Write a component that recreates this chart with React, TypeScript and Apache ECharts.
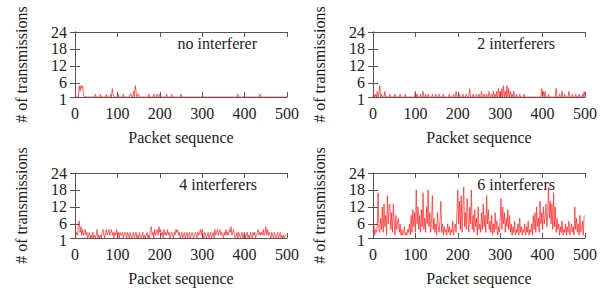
import React, { useEffect, useRef } from 'react';
import * as echarts from 'echarts';

const xTicks = [0, 100, 200, 300, 400, 500];
const yTicks = [1, 6, 12, 18, 24];
const panelTitles = ['no interferer', '2 interferers', '4 interferers', '6 interferers'];

// sparse spikes [packet, transmissions]; every other packet reads 1
const noInterfererSpikes: [number, number][] = [
  [10, 5], [12, 3], [14, 5], [16, 4], [18, 5], [20, 2], [48, 2], [60, 2], [74, 2], [84, 2],
  [88, 4], [90, 2], [102, 2], [114, 2], [130, 2], [132, 2], [138, 3], [142, 5], [144, 3], [148, 2],
  [150, 2], [174, 2], [186, 2], [194, 2], [200, 2], [216, 2], [228, 2], [250, 2], [384, 2], [436, 2],
];

const twoInterferersSpikes: [number, number][] = [
  [2, 2], [6, 2], [10, 3], [14, 2], [16, 5], [20, 2], [28, 3], [40, 2], [52, 2], [64, 2], [76, 2],
  [100, 3], [104, 2], [112, 2], [118, 3], [124, 2], [130, 2], [140, 2], [148, 2], [156, 2], [166, 2],
  [180, 2], [190, 2], [196, 3], [204, 2], [212, 2], [220, 2], [228, 4], [236, 2], [244, 2], [250, 2],
  [256, 3], [262, 2], [268, 2], [274, 3], [280, 2], [284, 3], [288, 2], [292, 3], [296, 4], [300, 3],
  [304, 4], [308, 5], [312, 3], [316, 5], [320, 4], [324, 3], [328, 2], [332, 3], [338, 2], [346, 2],
  [356, 2], [398, 4], [402, 3], [406, 3], [414, 2], [432, 4], [440, 2], [446, 3], [452, 2], [462, 3],
  [470, 2], [478, 2], [486, 2], [494, 2], [498, 3],
];

// dense readings, one every 2 packets (0, 2, 4, ... 498)
const fourInterferers = [
  1, 2, 3, 2, 6, 7, 3, 5, 2, 4,
  2, 3, 4, 2, 3, 1, 2, 3, 1, 2,
  1, 3, 1, 2, 1, 2, 4, 1, 2, 1,
  2, 1, 3, 4, 2, 1, 3, 4, 2, 3,
  4, 2, 3, 4, 2, 3, 1, 3, 2, 4,
  2, 3, 1, 3, 2, 2, 3, 1, 2, 3,
  2, 1, 3, 2, 1, 3, 2, 1, 2, 3,
  1, 2, 3, 1, 2, 1, 3, 2, 1, 2,
  3, 1, 2, 1, 2, 3, 1, 2, 1, 4,
  5, 2, 3, 1, 4, 2, 3, 4, 2, 5,
  3, 4, 2, 3, 1, 4, 2, 3, 2, 4,
  2, 3, 1, 2, 3, 2, 1, 3, 2, 4,
  3, 4, 2, 3, 1, 2, 3, 1, 2, 3,
  1, 2, 3, 1, 2, 3, 1, 2, 3, 2,
  1, 2, 3, 2, 1, 3, 2, 3, 4, 2,
  4, 2, 1, 3, 2, 1, 2, 3, 1, 2,
  3, 1, 2, 3, 1, 4, 2, 3, 4, 2,
  3, 4, 2, 3, 2, 1, 3, 2, 4, 2,
  3, 2, 4, 3, 5, 2, 3, 4, 2, 1,
  2, 3, 1, 3, 2, 1, 2, 3, 1, 2,
  3, 1, 2, 3, 1, 2, 1, 3, 2, 1,
  3, 2, 3, 1, 2, 3, 4, 2, 3, 2,
  3, 2, 4, 2, 3, 5, 2, 4, 2, 3,
  2, 1, 3, 2, 1, 3, 2, 1, 2, 3,
  1, 2, 3, 1, 2, 1, 2, 1, 2, 2,
];

const sixInterferers = [
  3, 6, 2, 4, 3, 5, 17, 4, 3, 8,
  4, 12, 3, 13, 5, 9, 2, 16, 6, 12,
  13, 4, 10, 3, 13, 6, 2, 9, 4, 7,
  8, 3, 6, 2, 4, 2, 3, 5, 2, 3,
  2, 4, 3, 6, 2, 9, 3, 11, 5, 10,
  3, 18, 6, 12, 4, 9, 3, 11, 5, 17,
  4, 8, 3, 12, 6, 18, 5, 10, 3, 7,
  16, 4, 8, 3, 6, 2, 10, 5, 3, 7,
  14, 3, 6, 2, 5, 3, 4, 2, 6, 3,
  5, 2, 4, 3, 7, 2, 5, 6, 3, 10,
  18, 6, 14, 4, 16, 3, 12, 19, 5, 10,
  4, 15, 8, 3, 12, 6, 18, 4, 9, 3,
  11, 5, 8, 2, 12, 4, 6, 3, 10, 4,
  13, 5, 9, 3, 16, 6, 11, 4, 7, 3,
  9, 2, 6, 3, 10, 4, 7, 2, 5, 3,
  8, 15, 4, 12, 6, 10, 3, 8, 5, 11,
  4, 9, 3, 6, 2, 5, 3, 7, 2, 4,
  3, 6, 2, 8, 3, 5, 2, 4, 3, 6,
  2, 5, 3, 7, 2, 4, 3, 6, 2, 9,
  4, 10, 3, 12, 5, 8, 3, 14, 6, 10,
  4, 12, 6, 9, 13, 5, 10, 19, 8, 14,
  6, 13, 4, 17, 5, 12, 3, 8, 4, 6,
  2, 5, 3, 7, 2, 4, 3, 6, 2, 5,
  3, 7, 2, 4, 6, 3, 5, 2, 12, 4,
  8, 3, 6, 2, 9, 3, 4, 7, 2, 9,
];

const STEP = 2;

function fromSpikes(spikes: [number, number][]): number[][] {
  const vals: number[] = [];
  for (let p = 0; p <= 500; p += STEP) vals.push(1);
  spikes.forEach(([p, v]) => { vals[p / STEP] = v; });
  return vals.map((v, i) => [i * STEP, v]);
}
function fromDense(vals: number[]): number[][] {
  return vals.map((v, i) => [i * STEP, v]);
}

const seriesData = [
  fromSpikes(noInterfererSpikes),
  fromSpikes(twoInterferersSpikes),
  fromDense(fourInterferers),
  fromDense(sixInterferers),
];

const GRID_W = 212;
const GRID_H = 65;
const gridPos = [
  { left: 75, top: 32 },
  { left: 373, top: 32 },
  { left: 75, top: 173 },
  { left: 373, top: 173 },
];

const FONT = "'Liberation Serif', 'Times New Roman', Times, serif";
const TEXT = '#222';
const FRAME = '#555';

export default function App() {
  const ref = useRef<HTMLDivElement>(null);
  useEffect(() => {
    if (!ref.current) return;
    const chart = echarts.init(ref.current, undefined, { renderer: 'svg' });
    const grid = gridPos.map((g) => ({ left: g.left, top: g.top, width: GRID_W, height: GRID_H, containLabel: false }));
    const xAxis: any[] = [];
    const yAxis: any[] = [];
    const baseLine = { show: true, lineStyle: { color: FRAME, width: 1 } };
    const tick = { show: true, inside: true, length: 5, lineStyle: { color: FRAME, width: 1 } };
    const labelStyle = { fontFamily: FONT, fontSize: 16, color: TEXT };
    const yLabelStyle = { ...labelStyle, lineHeight: 12 };
    const upperYTicks = yTicks.slice(1);
    const lowestYTick = yTicks.slice(0, 1);
    gridPos.forEach((_, i) => {
      xAxis.push({
        type: 'value', gridIndex: i, min: 0, max: 500, interval: 100, position: 'bottom',
        axisLine: baseLine, axisTick: tick, splitLine: { show: false },
        axisLabel: { show: true, margin: 8, ...labelStyle, customValues: xTicks, hideOverlap: false },
        name: 'Packet sequence', nameLocation: 'middle', nameGap: 32,
        nameTextStyle: labelStyle,
      });
      yAxis.push({
        type: 'value', gridIndex: i, min: 1, max: 24, position: 'left',
        axisLine: baseLine, axisTick: { ...tick, customValues: yTicks }, splitLine: { show: false },
        axisLabel: {
          show: true, margin: 8, ...yLabelStyle, customValues: upperYTicks,
          showMinLabel: true, showMaxLabel: true, hideOverlap: false,
        },
        name: '# of transmissions', nameLocation: 'middle', nameGap: 46,
        nameTextStyle: labelStyle,
      });
    });
    gridPos.forEach((_, i) => {
      xAxis.push({
        type: 'value', gridIndex: i, min: 0, max: 500, interval: 100, position: 'top',
        axisLine: baseLine, axisTick: tick, axisLabel: { show: false }, splitLine: { show: false },
      });
      yAxis.push({
        type: 'value', gridIndex: i, min: 1, max: 24, position: 'right',
        axisLine: baseLine, axisTick: { ...tick, customValues: yTicks },
        axisLabel: { show: false, customValues: yTicks }, splitLine: { show: false },
      });
    });
    gridPos.forEach((_, i) => {
      // second left axis carrying only the lowest tick label, sitting a little below its tick as in the reference
      yAxis.push({
        type: 'value', gridIndex: i, min: 1, max: 24, position: 'left', offset: 0,
        axisLine: { show: false }, axisTick: { show: false }, splitLine: { show: false },
        axisLabel: {
          show: true, margin: 8, ...labelStyle, lineHeight: 4, verticalAlign: 'top',
          customValues: lowestYTick, showMinLabel: true, hideOverlap: false,
        },
      });
    });
    const series = seriesData.map((d, i) => ({
      type: 'line', xAxisIndex: i, yAxisIndex: i, data: d, symbol: 'none', showSymbol: false,
      lineStyle: { color: '#ff2020', width: 0.7 }, silent: true,
    }));
    chart.setOption({
      animation: false,
      backgroundColor: '#fff',
      grid, xAxis, yAxis, series,
      graphic: gridPos.map((g, i) => ({
        type: 'text', x: g.left + GRID_W - 30, y: g.top + 11,
        style: { text: panelTitles[i], fontFamily: FONT, fontSize: 16, fill: TEXT, align: 'right', verticalAlign: 'middle' },
      })),
    });
    return () => chart.dispose();
  }, []);
  return <div ref={ref} style={{ position: 'fixed', left: 0, top: 0, width: 616, height: 289 }} />;
}
